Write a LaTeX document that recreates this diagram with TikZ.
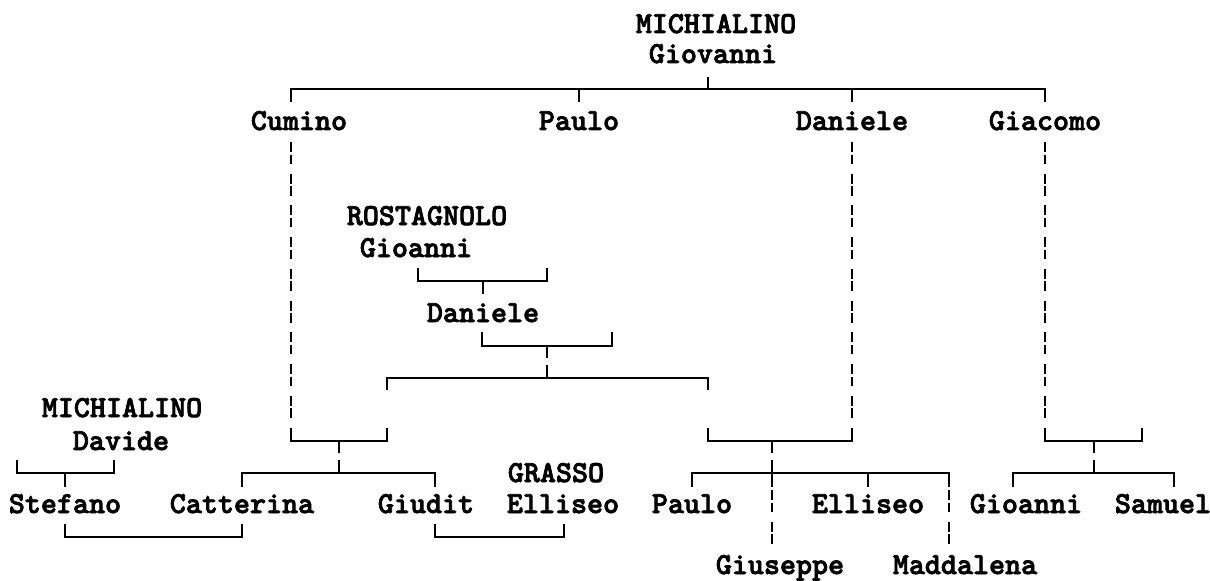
\documentclass[tikz,border=0pt]{standalone}
\usepackage{fontspec}
\usepackage{tikz}
\newfontfamily\treefont{lmmonolt10-bold.otf}[FakeBold=2.5]

\tikzset{
	person/.style={font=\treefont\fontsize{22.9}{27}\selectfont, inner sep=0pt, anchor=base},
	bond/.style={line width=1.5pt},
	split/.style={line width=1.5pt, dash pattern=on 9pt off 5.25pt on 30pt},
	broken/.style={line width=1.5pt, dash pattern=on 7.5pt off 1.9pt on 7.1pt off 7.3pt},
}

\begin{document}
\begin{tikzpicture}[x=0.75pt, y=-0.75pt]
	\useasboundingbox (0,0) rectangle (1210,581);

	% MICHIALINO Giovanni and his sons
	\node[person] (giovanniS) at (716,33) {MICHIALINO};
	\node[person] (giovanni) at (713,63) {Giovanni};
	\node[person] (cumino) at (299,130) {Cumino};
	\node[person] (paulo) at (579,130) {Paulo};
	\node[person] (daniele) at (852,130) {Daniele};
	\node[person] (giacomo) at (1045,130) {Giacomo};

	% ROSTAGNOLO line
	\node[person] (gioanniS) at (427,225) {ROSTAGNOLO};
	\node[person] (gioanni) at (416,257) {Gioanni};
	\node[person] (danieleR) at (483,322) {Daniele};

	% grandchildren and spouses
	\node[person] (davideS) at (122,417) {MICHIALINO};
	\node[person] (davide) at (121,450) {Davide};
	\node[person] (elliseoS) at (556,482) {GRASSO};
	\node[person] (stefano) at (65,513) {Stefano};
	\node[person] (catterina) at (242,513) {Catterina};
	\node[person] (giudit) at (426,513) {Giudit};
	\node[person] (elliseoG) at (563,513) {Elliseo};
	\node[person] (pauloD) at (692,513) {Paulo};
	\node[person] (elliseoD) at (868,513) {Elliseo};
	\node[person] (gioanniG) at (1026,513) {Gioanni};
	\node[person] (samuel) at (1163,513) {Samuel};
	\node[person] (giuseppe) at (780,574) {Giuseppe};
	\node[person] (maddalena) at (965,574) {Maddalena};

	% sons bar
	\coordinate (giovanniFoot) at (708,77);
	\coordinate (sonsL) at (291,89);
	\coordinate (sonsR) at (1045,89);
	\coordinate (cuminoHead) at (291,102);
	\coordinate (pauloHead) at (579,102);
	\coordinate (danieleHead) at (852,102);
	\coordinate (giacomoHead) at (1045,102);
	\draw[bond] (giovanniFoot) -- (giovanniFoot |- sonsL);
	\draw[bond] (cuminoHead) -- (sonsL) -- (sonsR) -- (giacomoHead);
	\draw[bond] (pauloHead) -- (pauloHead |- sonsL);
	\draw[bond] (danieleHead) -- (danieleHead |- sonsL);

	% long descents
	\coordinate (cuminoFoot) at (291,142);
	\coordinate (cuminoWed) at (291,428);
	\coordinate (danieleFoot) at (852,142);
	\coordinate (danieleWed) at (852,428);
	\coordinate (giacomoFoot) at (1045,142);
	\coordinate (giacomoWed) at (1045,428);
	\draw[broken] (cuminoFoot) -- (cuminoWed);
	\draw[broken] (danieleFoot) -- (danieleWed);
	\draw[broken] (giacomoFoot) -- (giacomoWed);

	% ROSTAGNOLO Gioanni -> Daniele -> daughters
	\coordinate (gioanniWed) at (418,268);
	\coordinate (gioanniSpouse) at (547,268);
	\coordinate (gioanniKids) at (483,281);
	\coordinate (danieleRHead) at (483,294);
	\draw[bond] (gioanniWed) |- (gioanniKids) -| (gioanniSpouse);
	\draw[bond] (gioanniKids) -- (danieleRHead);
	\coordinate (danieleRWed) at (482,332);
	\coordinate (danieleRSpouse) at (612,332);
	\coordinate (danieleRKids) at (547,346);
	\coordinate (daughtersBar) at (547,378);
	\coordinate (daughterL) at (387,390);
	\coordinate (daughterR) at (708,390);
	\draw[bond] (danieleRWed) |- (danieleRKids) -| (danieleRSpouse);
	\draw[split] (danieleRKids) -- (daughtersBar);
	\draw[bond] (daughterL) |- (daughtersBar) -| (daughterR);

	% Cumino's family
	\coordinate (cuminoSpouse) at (387,428);
	\coordinate (cuminoKids) at (339,441);
	\coordinate (cuminoBar) at (339,473);
	\coordinate (catterinaHead) at (242,487);
	\coordinate (giuditHead) at (435,487);
	\draw[bond] (cuminoWed) |- (cuminoKids) -| (cuminoSpouse);
	\draw[split] (cuminoKids) -- (cuminoBar);
	\draw[bond] (catterinaHead) |- (cuminoBar) -| (giuditHead);

	% MICHIALINO Davide
	\coordinate (davideWed) at (17,460);
	\coordinate (davideSpouse) at (114,460);
	\coordinate (davideKids) at (65,473);
	\coordinate (stefanoHead) at (65,487);
	\draw[bond] (davideWed) |- (davideKids) -| (davideSpouse);
	\draw[bond] (davideKids) -- (stefanoHead);

	% marriages
	\coordinate (stefanoFoot) at (65,524);
	\coordinate (catterinaFoot) at (242,524);
	\coordinate (giuditFoot) at (435,524);
	\coordinate (elliseoGFoot) at (564,524);
	\draw[bond] (stefanoFoot) -- ++(0,13) -| (catterinaFoot);
	\draw[bond] (giuditFoot) -- ++(0,13) -| (elliseoGFoot);

	% Daniele's family
	\coordinate (danieleSpouse) at (708,428);
	\coordinate (danieleKids) at (772,441);
	\coordinate (danieleBar) at (772,473);
	\coordinate (pauloDHead) at (692,487);
	\coordinate (elliseoDHead) at (868,487);
	\coordinate (maddalenaTop) at (949,487);
	\coordinate (giuseppeLine) at (772,490);
	\coordinate (giuseppeHead) at (772,548);
	\coordinate (maddalenaLine) at (949,490);
	\coordinate (maddalenaHead) at (949,548);
	\draw[bond] (danieleSpouse) |- (danieleKids) -| (danieleWed);
	\draw[split] (danieleKids) -- (danieleKids |- pauloDHead);
	\draw[bond] (pauloDHead) |- (danieleBar) -| (maddalenaTop);
	\draw[bond] (elliseoDHead) -- (elliseoDHead |- danieleBar);
	\draw[broken] (giuseppeLine) -- (giuseppeHead);
	\draw[broken] (maddalenaLine) -- (maddalenaHead);

	% Giacomo's family
	\coordinate (giacomoSpouse) at (1142,428);
	\coordinate (giacomoKids) at (1094,441);
	\coordinate (giacomoBar) at (1094,473);
	\coordinate (gioanniGHead) at (1013,487);
	\coordinate (samuelHead) at (1174,487);
	\draw[bond] (giacomoWed) |- (giacomoKids) -| (giacomoSpouse);
	\draw[split] (giacomoKids) -- (giacomoBar);
	\draw[bond] (gioanniGHead) |- (giacomoBar) -| (samuelHead);

\end{tikzpicture}
\end{document}
